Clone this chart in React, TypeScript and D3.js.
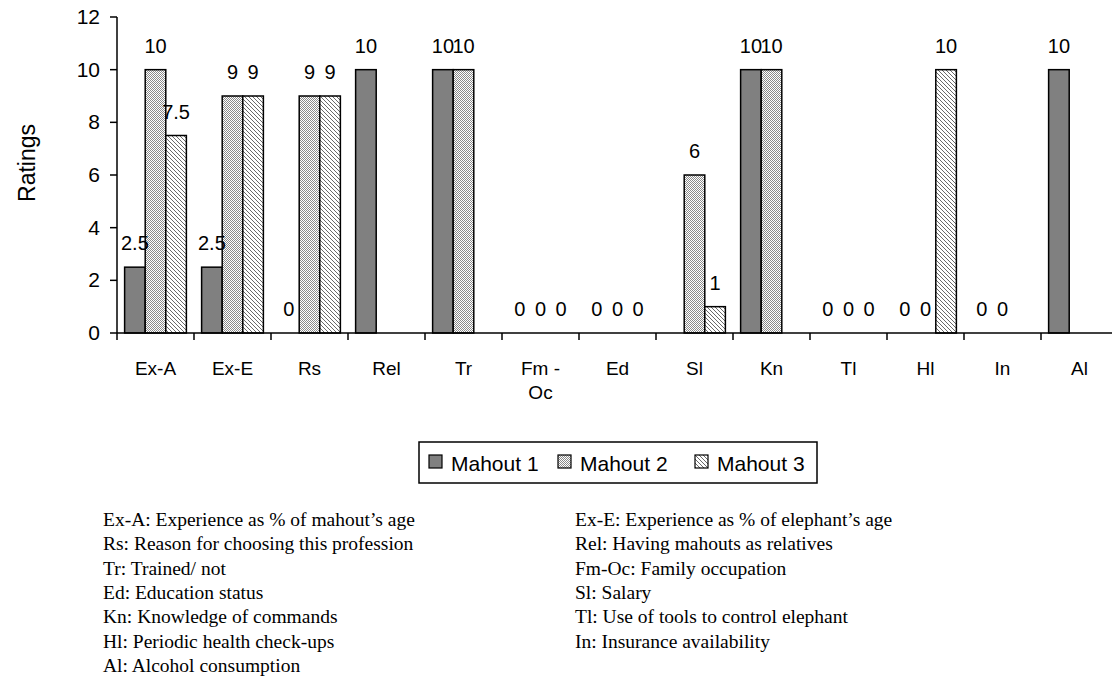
import React from "react";
import * as d3 from "d3";

const categories = ["Ex-A", "Ex-E", "Rs", "Rel", "Tr", "Fm-Oc", "Ed", "Sl", "Kn", "Tl", "Hl", "In", "Al"];
const tickLabels = ["Ex-A", "Ex-E", "Rs", "Rel", "Tr", "Fm -\nOc", "Ed", "Sl", "Kn", "Tl", "Hl", "In", "Al"];
const seriesNames = ["Mahout 1", "Mahout 2", "Mahout 3"];
const mahout1: (number | null)[] = [2.5, 2.5, 0, 10, 10, 0, 0, null, 10, 0, 0, 0, 10];
const mahout2: (number | null)[] = [10, 9, 9, null, 10, 0, 0, 6, 10, 0, 0, 0, null];
const mahout3: (number | null)[] = [7.5, 9, 9, null, null, 0, 0, 1, null, 0, 10, null, null];
const yTicks = [0, 2, 4, 6, 8, 10, 12];
const notesLeft = [
  "Ex-A: Experience as % of mahout’s age",
  "Rs: Reason for choosing this profession",
  "Tr: Trained/ not",
  "Ed: Education status",
  "Kn: Knowledge of commands",
  "Hl: Periodic health check-ups",
  "Al: Alcohol consumption",
];
const notesRight = [
  "Ex-E: Experience as % of elephant’s age",
  "Rel: Having mahouts as relatives",
  "Fm-Oc: Family occupation",
  "Sl: Salary",
  "Tl: Use of tools to control elephant",
  "In: Insurance availability",
];

const seriesData = [mahout1, mahout2, mahout3];
const fills = ["#808080", "url(#pat2)", "url(#pat3)"];
const SANS = "'Liberation Sans', Arial, sans-serif";
const SERIF = "'Liberation Serif', 'Times New Roman', serif";

export default function App() {
  const W = 1112, H = 680;
  const x0 = 117, bandW = 77;
  const x = d3.scaleBand<string>().domain(categories).range([x0, x0 + bandW * categories.length]).padding(0);
  const xi = d3.scaleBand<string>().domain(seriesNames).range([0, x.bandwidth()]).paddingInner(0).paddingOuter(0.37);
  const y = d3.scaleLinear().domain([0, 12]).range([333, 17]);
  const y0 = y(0);

  return (
    <svg width={W} height={H} style={{ position: "absolute", left: 0, top: 0, background: "#fff" }}>
      <defs>
        <pattern id="pat2" width="2" height="2" patternUnits="userSpaceOnUse">
          <rect width="2" height="2" fill="#ffffff" />
          <rect x="0" y="0" width="1" height="1" fill="#8a8a8a" />
          <rect x="1" y="1" width="1" height="1" fill="#8a8a8a" />
        </pattern>
        <pattern id="pat3" width="4" height="4" patternUnits="userSpaceOnUse">
          <rect width="4" height="4" fill="#ffffff" />
          <path d="M0,0 L4,4 M-1,3 L1,5 M3,-1 L5,1" stroke="#6a6a6a" strokeWidth="1" />
        </pattern>
      </defs>
      <rect width={W} height={H} fill="#fff" />

      {/* bars */}
      {categories.map((c, ci) =>
        seriesData.map((s, si) => {
          const v = s[ci];
          if (v === null || v === 0) return null;
          const bx = (x(c) as number) + (xi(seriesNames[si]) as number);
          return (
            <rect key={c + si} x={bx} y={y(v)} width={xi.bandwidth()} height={y0 - y(v)}
              fill={fills[si]} stroke="#000" strokeWidth={1.5} />
          );
        })
      )}

      {/* data labels */}
      {categories.map((c, ci) =>
        seriesData.map((s, si) => {
          const v = s[ci];
          if (v === null) return null;
          const cx = (x(c) as number) + (xi(seriesNames[si]) as number) + xi.bandwidth() / 2;
          return (
            <text key={"l" + c + si} x={cx} y={y(v) - 17} textAnchor="middle" fontFamily={SANS} fontSize={20} fill="#000">
              {String(v)}
            </text>
          );
        })
      )}

      {/* axes */}
      <line x1={x0} x2={W} y1={y0} y2={y0} stroke="#000" strokeWidth={1.5} />
      <line x1={x0} x2={x0} y1={y(12)} y2={y0} stroke="#000" strokeWidth={1.5} />
      {yTicks.map((t) => (
        <g key={"yt" + t}>
          <line x1={x0 - 7} x2={x0} y1={y(t)} y2={y(t)} stroke="#000" strokeWidth={1.5} />
          <text x={100} y={y(t) + 7} textAnchor="end" fontFamily={SANS} fontSize={21} fill="#000">{t}</text>
        </g>
      ))}
      {categories.map((c, ci) => (
        <line key={"xt" + c} x1={x(c) as number} x2={x(c) as number} y1={y0} y2={y0 + 7} stroke="#000" strokeWidth={1.5} />
      ))}
      {categories.map((c, ci) => {
        const lines = tickLabels[ci].split("\n");
        const cx = (x(c) as number) + x.bandwidth() / 2;
        return (
          <text key={"xl" + c} x={cx} y={375} textAnchor="middle" fontFamily={SANS} fontSize={19} fill="#000">
            {lines.map((ln, li) => (
              <tspan key={li} x={cx} dy={li === 0 ? 0 : 24}>{ln}</tspan>
            ))}
          </text>
        );
      })}
      <text transform={`translate(35,${(y(12) + y0) / 2 - 12}) rotate(-90)`} textAnchor="middle" fontFamily={SANS} fontSize={23} fill="#000">
        Ratings
      </text>

      {/* legend */}
      <rect x={419} y={442} width={398} height={41} fill="#fff" stroke="#000" strokeWidth={1.5} />
      {seriesNames.map((n, i) => {
        const lx = [429, 558, 695][i];
        return (
          <g key={"lg" + n}>
            <rect x={lx} y={455} width={13} height={13} fill={fills[i]} stroke="#000" strokeWidth={1.2} />
            <text x={lx + 22} y={471} fontFamily={SANS} fontSize={21} fill="#000">{n}</text>
          </g>
        );
      })}

      {/* notes */}
      {notesLeft.map((t, i) => (
        <text key={"nl" + i} x={103} y={526 + i * 24.3} fontFamily={SERIF} fontSize={19.5} fill="#000">{t}</text>
      ))}
      {notesRight.map((t, i) => (
        <text key={"nr" + i} x={575} y={526 + i * 24.3} fontFamily={SERIF} fontSize={19.5} fill="#000">{t}</text>
      ))}
    </svg>
  );
}
